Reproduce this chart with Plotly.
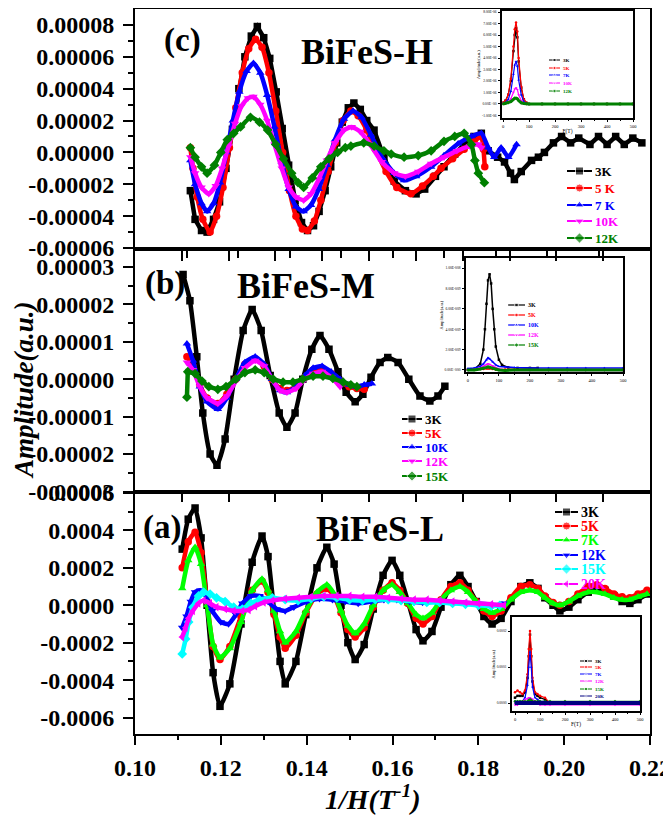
import plotly.graph_objects as go

FONT = "Liberation Serif"
BLACK, RED, BLUE, MAGENTA = "#000000", "#ff0000", "#0000ff", "#ff00ff"
OLIVE, LIME, CYAN, NAVY = "#008000", "#00ff00", "#00ffff", "#000080"

# ---------------- axis ticks ----------------
X_TICKS = [0.10, 0.12, 0.14, 0.16, 0.18, 0.20, 0.22]
X_MINOR = [0.11, 0.13, 0.15, 0.17, 0.19, 0.21]
B_FRAME_TICKS = [0.1109, 0.1218, 0.1327, 0.1436, 0.1545, 0.1655, 0.1764, 0.1873, 0.1982, 0.2091]
C_FRAME_TICKS = [0.112, 0.124, 0.136, 0.148, 0.160, 0.172, 0.184, 0.196, 0.208]
C_Y_TICKS = [-0.00006, -0.00004, -0.00002, 0.0, 0.00002, 0.00004, 0.00006, 0.00008]
C_Y_MINOR = [-0.00005, -0.00003, -0.00001, 0.00001, 0.00003, 0.00005, 0.00007]
B_Y_TICKS = [-0.00003, -0.00002, -0.00001, 0.0, 0.00001, 0.00002, 0.00003]
B_Y_MINOR = [-0.000025, -0.000015, -0.000005, 0.000005, 0.000015, 0.000025]
A_Y_TICKS = [-0.0006, -0.0004, -0.0002, 0.0, 0.0002, 0.0004, 0.0006]
A_Y_MINOR = [-0.0005, -0.0003, -0.0001, 0.0001, 0.0003, 0.0005]

# ---------------- panel (c) BiFeS-H ----------------
C_3K_X = [0.1129, 0.1140, 0.1155, 0.1168, 0.1183, 0.1197, 0.1212, 0.1227, 0.1242, 0.1256, 0.1271, 0.1285,
          0.1300, 0.1314, 0.1329, 0.1343, 0.1358, 0.1373, 0.1388, 0.1402, 0.1416, 0.1429, 0.1443, 0.1456,
          0.1470, 0.1483, 0.1497, 0.1510, 0.1525, 0.1540, 0.1557, 0.1580, 0.1604, 0.1630, 0.1655, 0.1675,
          0.1700, 0.1720, 0.1745, 0.1767, 0.1790, 0.1807, 0.1823, 0.1845, 0.1861, 0.1875, 0.1884, 0.1900,
          0.1924, 0.1940, 0.1954, 0.1975, 0.1994, 0.2015, 0.2034, 0.2060, 0.2080, 0.2100, 0.2120, 0.2140,
          0.2160, 0.2181]
C_3K_Y = [-2.4e-5, -4.2e-5, -4.9e-5, -5.0e-5, -4.2e-5, -3.1e-5, -1.0e-5, 1.45e-5, 4.0e-5, 6.0e-5, 7.3e-5, 7.9e-5,
          7.2e-5, 5.9e-5, 3.8e-5, 1.5e-5, -0.8e-5, -3.0e-5, -4.4e-5, -4.9e-5, -4.6e-5, -3.7e-5, -2.4e-5, -0.9e-5,
          0.6e-5, 1.9e-5, 2.8e-5, 3.1e-5, 2.7e-5, 2.0e-5, 1.4e-5, -0.3e-5, -1.8e-5, -2.4e-5, -2.6e-5, -2.3e-5,
          -1.5e-5, -0.9e-5, -0.1e-5, 0.5e-5, 1.0e-5, 1.2e-5, 0.1e-5, -0.3e-5, -0.6e-5, -1.3e-5, -1.7e-5, -1.2e-5,
          -0.5e-5, -0.3e-5, 0.0, 0.6e-5, 1.0e-5, 0.6e-5, 0.9e-5, 0.5e-5, 1.0e-5, 0.5e-5, 1.0e-5, 0.5e-5,
          0.9e-5, 0.6e-5]
C_5K_X = [0.1129, 0.1135, 0.1145, 0.1158, 0.1175, 0.1190, 0.1205, 0.1220, 0.1235, 0.1250, 0.1265, 0.1281,
          0.1296, 0.1312, 0.1328, 0.1344, 0.1360, 0.1375, 0.1390, 0.1402, 0.1418, 0.1433, 0.1450, 0.1467,
          0.1485, 0.1503, 0.1520, 0.1540, 0.1560, 0.1585, 0.1610, 0.1643, 0.1670, 0.1695, 0.1713, 0.1740,
          0.1767, 0.1790, 0.1807, 0.1812, 0.1815]
C_5K_Y = [0.3e-5, -1.0e-5, -2.8e-5, -4.2e-5, -5.0e-5, -4.0e-5, -2.2e-5, 0.3e-5, 2.8e-5, 5.0e-5, 6.5e-5, 7.1e-5,
          6.6e-5, 5.0e-5, 2.6e-5, 0.0, -2.4e-5, -4.0e-5, -4.8e-5, -4.9e-5, -4.3e-5, -3.0e-5, -1.2e-5, 0.6e-5,
          2.0e-5, 2.6e-5, 2.3e-5, 1.4e-5, 0.2e-5, -1.2e-5, -2.2e-5, -2.6e-5, -2.1e-5, -1.5e-5, -1.0e-5, -0.4e-5,
          0.2e-5, 0.7e-5, 1.0e-5, 0.2e-5, -0.9e-5]
C_7K_X = [0.1129, 0.1140, 0.1155, 0.1168, 0.1183, 0.1198, 0.1213, 0.1228, 0.1243, 0.1260, 0.1276, 0.1292,
          0.1308, 0.1325, 0.1342, 0.1358, 0.1375, 0.1393, 0.1410, 0.1428, 0.1447, 0.1466, 0.1487, 0.1508,
          0.1528, 0.1550, 0.1575, 0.1604, 0.1627, 0.1655, 0.1690, 0.1720, 0.1753, 0.1784, 0.1807, 0.1823,
          0.1837, 0.1853, 0.1870, 0.1889]
C_7K_Y = [-0.5e-5, -2.0e-5, -3.2e-5, -3.7e-5, -3.2e-5, -1.9e-5, 0.0, 2.0e-5, 3.8e-5, 5.1e-5, 5.6e-5, 5.0e-5,
          3.6e-5, 1.6e-5, -0.6e-5, -2.3e-5, -3.4e-5, -3.7e-5, -3.3e-5, -2.3e-5, -0.8e-5, 0.8e-5, 2.1e-5, 2.6e-5,
          2.2e-5, 1.1e-5, -0.3e-5, -1.3e-5, -1.75e-5, -1.5e-5, -0.9e-5, -0.2e-5, 0.55e-5, 1.0e-5, 1.2e-5, 0.3e-5,
          -0.3e-5, 0.3e-5, -0.3e-5, 0.5e-5]
C_10K_X = [0.1129, 0.1140, 0.1155, 0.1172, 0.1188, 0.1203, 0.1218, 0.1233, 0.1248, 0.1263, 0.1276, 0.1292,
           0.1308, 0.1325, 0.1342, 0.1358, 0.1375, 0.1393, 0.1410, 0.1428, 0.1447, 0.1466, 0.1487, 0.1505,
           0.1525, 0.1548, 0.1575, 0.1604, 0.1630, 0.1660, 0.1690, 0.1720, 0.1750, 0.1780, 0.1800, 0.1807]
C_10K_Y = [-0.3e-5, -1.3e-5, -2.2e-5, -2.6e-5, -2.1e-5, -1.0e-5, 0.4e-5, 1.8e-5, 2.9e-5, 3.4e-5, 3.5e-5, 3.0e-5,
           2.0e-5, 0.5e-5, -1.0e-5, -2.2e-5, -2.8e-5, -3.0e-5, -2.6e-5, -1.7e-5, -0.5e-5, 0.6e-5, 1.4e-5, 1.6e-5,
           1.3e-5, 0.5e-5, -0.6e-5, -1.3e-5, -1.5e-5, -1.2e-5, -0.7e-5, -0.3e-5, 0.1e-5, 0.4e-5, 0.5e-5, 0.3e-5]
C_12K_X = [0.1129, 0.1140, 0.1155, 0.1168, 0.1185, 0.1200, 0.1215, 0.1230, 0.1246, 0.1269, 0.1290, 0.1309,
           0.1328, 0.1346, 0.1365, 0.1380, 0.1393, 0.1413, 0.1433, 0.1452, 0.1472, 0.1490, 0.1503, 0.1533,
           0.1557, 0.1580, 0.1597, 0.1627, 0.1660, 0.1690, 0.1720, 0.1745, 0.1767, 0.1784, 0.1792, 0.1800,
           0.1814]
C_12K_Y = [0.3e-5, -0.3e-5, -0.9e-5, -1.3e-5, -0.8e-5, 0.0, 0.8e-5, 1.2e-5, 1.6e-5, 2.2e-5, 1.9e-5, 1.4e-5,
           0.5e-5, -0.4e-5, -1.3e-5, -1.9e-5, -2.2e-5, -1.6e-5, -0.9e-5, -0.4e-5, 0.0, 0.3e-5, 0.4e-5, 0.6e-5,
           0.4e-5, 0.1e-5, -0.1e-5, -0.3e-5, -0.2e-5, 0.1e-5, 0.7e-5, 1.0e-5, 1.2e-5, 0.5e-5, -0.5e-5, -1.3e-5,
           -1.9e-5]

# ---------------- panel (b) BiFeS-M ----------------
B_3K_X = [0.1112, 0.1128, 0.1144, 0.1158, 0.1175, 0.1191, 0.1210, 0.1231, 0.1252, 0.1273, 0.1294, 0.1315,
          0.1336, 0.1354, 0.1373, 0.1391, 0.1412, 0.1431, 0.1452, 0.1473, 0.1492, 0.1513, 0.1531, 0.1550,
          0.1571, 0.1589, 0.1613, 0.1638, 0.1664, 0.1687, 0.1706, 0.1722]
B_3K_Y = [2.8e-5, 2.1e-5, 0.6e-5, -0.9e-5, -2.0e-5, -2.3e-5, -1.6e-5, 0.0, 1.3e-5, 1.86e-5, 1.3e-5, 0.1e-5,
          -0.9e-5, -1.28e-5, -0.9e-5, 0.0, 0.8e-5, 1.17e-5, 0.8e-5, 0.2e-5, -0.35e-5, -0.6e-5, -0.4e-5, 0.05e-5,
          0.45e-5, 0.58e-5, 0.45e-5, 0.0, -0.45e-5, -0.58e-5, -0.45e-5, -0.19e-5]
B_5K_X = [0.1121, 0.1135, 0.1151, 0.1168, 0.1193, 0.1214, 0.1235, 0.1256, 0.1280, 0.1301, 0.1319, 0.1338,
          0.1354, 0.1375, 0.1396, 0.1415, 0.1436, 0.1457, 0.1478, 0.1499, 0.1517, 0.1534]
B_5K_Y = [0.6e-5, 0.35e-5, -0.15e-5, -0.5e-5, -0.65e-5, -0.4e-5, 0.0, 0.4e-5, 0.55e-5, 0.35e-5, 0.0, -0.25e-5,
          -0.3e-5, -0.2e-5, 0.05e-5, 0.25e-5, 0.3e-5, 0.15e-5, -0.05e-5, -0.2e-5, -0.25e-5, -0.27e-5]
B_10K_X = [0.1121, 0.1135, 0.1151, 0.1168, 0.1193, 0.1214, 0.1235, 0.1256, 0.1280, 0.1301, 0.1319, 0.1338,
           0.1354, 0.1375, 0.1396, 0.1415, 0.1436, 0.1457, 0.1478, 0.1499, 0.1517, 0.1534, 0.1552]
B_10K_Y = [0.95e-5, 0.5e-5, -0.2e-5, -0.6e-5, -0.8e-5, -0.5e-5, 0.0, 0.45e-5, 0.6e-5, 0.4e-5, 0.0, -0.3e-5,
           -0.35e-5, -0.2e-5, 0.1e-5, 0.3e-5, 0.35e-5, 0.2e-5, 0.0, -0.15e-5, -0.2e-5, -0.15e-5, -0.12e-5]
B_12K_X = [0.1121, 0.1135, 0.1151, 0.1168, 0.1193, 0.1214, 0.1235, 0.1256, 0.1280, 0.1301, 0.1319, 0.1338,
           0.1354, 0.1375, 0.1396, 0.1415, 0.1436, 0.1457, 0.1478]
B_12K_Y = [0.45e-5, 0.25e-5, -0.2e-5, -0.5e-5, -0.65e-5, -0.45e-5, -0.05e-5, 0.3e-5, 0.5e-5, 0.35e-5, 0.0,
           -0.3e-5, -0.35e-5, -0.25e-5, 0.0, 0.15e-5, 0.2e-5, 0.05e-5, -0.2e-5]
B_15K_X = [0.1121, 0.1123, 0.1140, 0.1156, 0.1172, 0.1193, 0.1212, 0.1235, 0.1256, 0.1280, 0.1301, 0.1322,
           0.1345, 0.1368, 0.1391, 0.1415, 0.1438, 0.1461, 0.1485, 0.1503, 0.1517]
B_15K_Y = [-0.48e-5, 0.2e-5, 0.15e-5, -0.05e-5, -0.2e-5, -0.27e-5, -0.2e-5, 0.0, 0.18e-5, 0.25e-5, 0.18e-5, 0.0,
           -0.08e-5, -0.08e-5, 0.0, 0.08e-5, 0.08e-5, 0.02e-5, -0.08e-5, -0.15e-5, -0.2e-5]

# ---------------- panel (a) BiFeS-L ----------------
A_LOW_T_X = [0.1110, 0.1124, 0.1140, 0.1154, 0.1168, 0.1182, 0.1198, 0.1221, 0.1247, 0.1273, 0.1296, 0.1310,
             0.1324, 0.1338, 0.1350, 0.1375, 0.1398, 0.1424, 0.1447, 0.1464, 0.1480, 0.1496, 0.1513, 0.1534,
             0.1555, 0.1578, 0.1599, 0.1617, 0.1636, 0.1655, 0.1671, 0.1692, 0.1713, 0.1736, 0.1757, 0.1776,
             0.1795, 0.1813, 0.1832, 0.1853, 0.1876, 0.1899, 0.1920, 0.1939, 0.1955, 0.1974, 0.1990, 0.2011,
             0.2032, 0.2056, 0.2076, 0.2095, 0.2116, 0.2135, 0.2153, 0.2172, 0.2193]
A_3K_Y = [3.0e-4, 4.6e-4, 5.2e-4, 3.6e-4, 0.0, -3.6e-4, -5.4e-4, -4.2e-4, -1.0e-4, 2.3e-4, 3.7e-4, 2.6e-4,
          -0.3e-4, -3.0e-4, -4.2e-4, -3.0e-4, -0.5e-4, 2.0e-4, 3.1e-4, 2.2e-4, 0.0, -2.0e-4, -2.9e-4, -2.1e-4,
          -0.2e-4, 1.6e-4, 2.4e-4, 1.6e-4, 0.2e-4, -1.3e-4, -1.9e-4, -1.4e-4, -0.1e-4, 1.1e-4, 1.6e-4, 1.0e-4,
          0.2e-4, -0.6e-4, -1.0e-4, -0.7e-4, 0.2e-4, 1.0e-4, 1.2e-4, 0.9e-4, 0.4e-4, 0.0, -0.3e-4, -0.1e-4,
          0.3e-4, 0.7e-4, 0.9e-4, 0.8e-4, 0.5e-4, 0.2e-4, 0.1e-4, 0.3e-4, 0.6e-4]
A_5K_Y = [2.0e-4, 3.4e-4, 3.9e-4, 2.8e-4, 0.2e-4, -2.2e-4, -2.9e-4, -2.2e-4, -0.6e-4, 0.8e-4, 1.3e-4, 0.7e-4,
          -0.5e-4, -1.7e-4, -2.3e-4, -1.6e-4, -0.4e-4, 0.6e-4, 0.9e-4, 0.5e-4, -0.4e-4, -1.3e-4, -1.7e-4, -1.2e-4,
          -0.1e-4, 0.8e-4, 1.2e-4, 0.8e-4, 0.1e-4, -0.7e-4, -1.0e-4, -0.6e-4, 0.3e-4, 1.0e-4, 1.2e-4, 0.8e-4,
          0.2e-4, -0.3e-4, -0.6e-4, -0.3e-4, 0.4e-4, 1.0e-4, 1.1e-4, 0.9e-4, 0.5e-4, 0.15e-4, 0.0, 0.2e-4,
          0.6e-4, 1.0e-4, 1.1e-4, 0.9e-4, 0.6e-4, 0.45e-4, 0.4e-4, 0.6e-4, 0.8e-4]
A_7K_Y = [0.9e-4, 2.4e-4, 3.1e-4, 2.2e-4, 0.0, -2.1e-4, -2.8e-4, -2.3e-4, -0.9e-4, 0.8e-4, 1.4e-4, 0.8e-4,
          -0.3e-4, -1.4e-4, -2.0e-4, -1.4e-4, -0.3e-4, 0.7e-4, 1.1e-4, 0.6e-4, -0.3e-4, -1.1e-4, -1.5e-4, -1.0e-4,
          0.0, 0.8e-4, 1.1e-4, 0.7e-4, 0.1e-4, -0.5e-4, -0.7e-4, -0.4e-4, 0.3e-4, 0.8e-4, 1.0e-4, 0.7e-4,
          0.2e-4, -0.2e-4, -0.4e-4, -0.2e-4, 0.3e-4, 0.7e-4, 0.8e-4, 0.7e-4, 0.4e-4, 0.1e-4, 0.0, 0.2e-4,
          0.5e-4, 0.7e-4, 0.7e-4, 0.6e-4, 0.4e-4, 0.3e-4, 0.3e-4, 0.45e-4, 0.6e-4]
A_12K_X = [0.1110, 0.1120, 0.1130, 0.1140, 0.1152, 0.1165, 0.1180, 0.1200, 0.1218, 0.1235, 0.1250, 0.1270,
           0.1290, 0.1310, 0.1330, 0.1350, 0.1370, 0.1400, 0.1430, 0.1460, 0.1490, 0.1520, 0.1550, 0.1580,
           0.1610, 0.1640, 0.1670, 0.1700, 0.1730, 0.1760, 0.1790, 0.1820, 0.1845, 0.1858]
A_12K_Y = [-1.2e-4, -0.6e-4, 0.2e-4, 0.7e-4, 0.8e-4, 0.5e-4, -0.3e-4, -0.9e-4, -1.0e-4, -0.5e-4, 0.1e-4, 0.5e-4,
           0.5e-4, 0.2e-4, -0.2e-4, -0.3e-4, -0.1e-4, 0.2e-4, 0.35e-4, 0.3e-4, 0.2e-4, 0.1e-4, 0.2e-4, 0.3e-4,
           0.3e-4, 0.2e-4, 0.15e-4, 0.2e-4, 0.2e-4, 0.15e-4, 0.1e-4, 0.05e-4, 0.0, 0.1e-4]
A_15K_X = [0.1110, 0.1118, 0.1125, 0.1135, 0.1148, 0.1160, 0.1175, 0.1190, 0.1210, 0.1230, 0.1250, 0.1270,
           0.1290, 0.1320, 0.1350, 0.1380, 0.1410, 0.1440, 0.1470, 0.1500, 0.1530, 0.1560, 0.1590, 0.1620,
           0.1650, 0.1680, 0.1710, 0.1740, 0.1770, 0.1800, 0.1830, 0.1850]
A_15K_Y = [-2.6e-4, -1.8e-4, -0.9e-4, -0.1e-4, 0.5e-4, 0.7e-4, 0.6e-4, 0.4e-4, 0.2e-4, -0.1e-4, -0.2e-4, 0.1e-4,
           0.3e-4, 0.4e-4, 0.3e-4, 0.25e-4, 0.35e-4, 0.45e-4, 0.4e-4, 0.3e-4, 0.25e-4, 0.3e-4, 0.3e-4, 0.25e-4,
           0.2e-4, 0.15e-4, 0.15e-4, 0.1e-4, 0.05e-4, 0.0, -0.05e-4, 0.0]
A_20K_X = [0.1110, 0.1118, 0.1125, 0.1135, 0.1148, 0.1160, 0.1175, 0.1190, 0.1210, 0.1230, 0.1250, 0.1265,
           0.1280, 0.1300, 0.1320, 0.1350, 0.1380, 0.1410, 0.1440, 0.1470, 0.1500, 0.1530, 0.1560, 0.1590,
           0.1620, 0.1650, 0.1680, 0.1710, 0.1740, 0.1770, 0.1800, 0.1830, 0.1860]
A_20K_Y = [-1.7e-4, -1.2e-4, -0.7e-4, -0.3e-4, 0.1e-4, 0.25e-4, 0.1e-4, -0.1e-4, -0.2e-4, -0.3e-4, -0.3e-4,
           -0.25e-4, -0.05e-4, 0.15e-4, 0.25e-4, 0.35e-4, 0.4e-4, 0.45e-4, 0.5e-4, 0.5e-4, 0.5e-4, 0.45e-4,
           0.45e-4, 0.4e-4, 0.35e-4, 0.3e-4, 0.3e-4, 0.25e-4, 0.2e-4, 0.15e-4, 0.1e-4, 0.05e-4, 0.0]

# ---------------- insets (FFT amplitude vs F(T)) ----------------
IC_F = [0, 10, 20, 30, 40, 45, 50, 55, 60, 70, 80, 90, 100, 150, 200, 250, 300, 350, 400, 450, 500]
IC_3K = [0.1e-6, 0.3e-6, 0.8e-6, 2.0e-6, 4.6e-6, 6.0e-6, 6.6e-6, 5.8e-6, 3.7e-6, 1.4e-6, 0.4e-6, 0.1e-6, 0, 0, 0, 0, 0, 0, 0, 0, 0]
IC_5K = [0.1e-6, 0.3e-6, 0.8e-6, 2.2e-6, 5.0e-6, 6.5e-6, 7.1e-6, 6.3e-6, 4.0e-6, 1.5e-6, 0.4e-6, 0.1e-6, 0, 0, 0, 0, 0, 0, 0, 0, 0]
IC_7K = [0.05e-6, 0.15e-6, 0.4e-6, 1.1e-6, 2.6e-6, 3.4e-6, 3.7e-6, 3.3e-6, 2.1e-6, 0.8e-6, 0.2e-6, 0.05e-6, 0, 0, 0, 0, 0, 0, 0, 0, 0]
IC_10K = [0.05e-6, 0.1e-6, 0.2e-6, 0.45e-6, 1.0e-6, 1.3e-6, 1.4e-6, 1.25e-6, 0.8e-6, 0.3e-6, 0.1e-6, 0, 0, 0, 0, 0, 0, 0, 0, 0, 0]
IC_12K = [0.0, 0.05e-6, 0.1e-6, 0.2e-6, 0.4e-6, 0.5e-6, 0.5e-6, 0.45e-6, 0.3e-6, 0.1e-6, 0.05e-6, 0, 0, 0, 0, 0, 0, 0, 0, 0, 0]
IC_Y_TICKS = [-1e-6, 0.0, 1e-6, 2e-6, 3e-6, 4e-6, 5e-6, 6e-6, 7e-6, 8e-6]
IC_Y_TEXT = ["-1.00E-06", "0.00E+00", "1.00E-06", "2.00E-06", "3.00E-06", "4.00E-06", "5.00E-06",
             "6.00E-06", "7.00E-06", "8.00E-06"]

IB_3K_F = [0, 20, 40, 50, 55, 60, 65, 70, 75, 80, 85, 90, 100, 110, 130, 160, 200, 225]
IB_3K = [0.0, 0.05e-9, 0.6e-9, 2.0e-9, 4.0e-9, 6.5e-9, 8.8e-9, 9.4e-9, 8.5e-9, 6.0e-9, 4.0e-9, 2.3e-9,
         1.0e-9, 0.5e-9, 0.25e-9, 0.2e-9, 0.2e-9, 0.2e-9]
IB_F = [0, 20, 40, 50, 60, 65, 70, 80, 90, 100, 120, 150, 200, 260, 320, 380, 440, 500]
IB_5K = [0.05e-9, 0.05e-9, 0.1e-9, 0.1e-9, 0.15e-9, 0.15e-9, 0.15e-9, 0.1e-9, 0.05e-9, 0.05e-9, 0.05e-9,
         0.05e-9, 0.05e-9, 0.05e-9, 0.05e-9, 0.05e-9, 0.05e-9, 0.05e-9]
IB_10K = [0.15e-9, 0.2e-9, 0.35e-9, 0.6e-9, 1.0e-9, 1.2e-9, 1.1e-9, 0.8e-9, 0.5e-9, 0.35e-9, 0.3e-9, 0.25e-9,
          0.2e-9, 0.2e-9, 0.2e-9, 0.2e-9, 0.2e-9, 0.2e-9]
IB_12K = [0.0, 0.05e-9, 0.2e-9, 0.35e-9, 0.55e-9, 0.6e-9, 0.55e-9, 0.4e-9, 0.2e-9, 0.1e-9, 0.0, -0.05e-9,
          -0.05e-9, -0.05e-9, -0.05e-9, -0.05e-9, -0.05e-9, -0.05e-9]
IB_15K = [0.0, 0.0, 0.1e-9, 0.15e-9, 0.25e-9, 0.3e-9, 0.25e-9, 0.15e-9, 0.05e-9, 0.0, -0.05e-9, 0.0, 0.0,
          0.0, 0.0, 0.0, 0.0, 0.0]
IB_Y_TICKS = [0.0, 2e-9, 4e-9, 6e-9, 8e-9, 1e-8]
IB_Y_TEXT = ["0.00E+000", "2.00E-009", "4.00E-009", "6.00E-009", "8.00E-009", "1.00E-008"]

IA_F = [0, 10, 20, 30, 40, 50, 55, 60, 65, 70, 80, 90, 100, 120, 140, 200, 300, 400, 500]
IA_3K = [0.15e-4, 0.2e-4, 0.2e-4, 0.2e-4, 0.3e-4, 0.7e-4, 1.3e-4, 1.9e-4, 1.3e-4, 0.6e-4, 0.25e-4, 0.2e-4,
         0.15e-4, 0.1e-4, 0.0, 0.0, 0.0, 0.0, 0.0]
IA_5K = [0.3e-4, 0.35e-4, 0.3e-4, 0.25e-4, 0.35e-4, 0.8e-4, 1.5e-4, 2.0e-4, 1.5e-4, 0.7e-4, 0.3e-4, 0.25e-4,
         0.2e-4, 0.15e-4, 0.0, 0.0, 0.0, 0.0, 0.0]
IA_7K = [0.05e-4, 0.05e-4, 0.05e-4, 0.05e-4, 0.15e-4, 0.5e-4, 1.0e-4, 1.42e-4, 1.0e-4, 0.45e-4, 0.15e-4,
         0.1e-4, 0.05e-4, 0.05e-4, 0.0, 0.0, 0.0, 0.0, 0.0]
IA_12K = [-0.05e-4, -0.05e-4, 0.0, 0.05e-4, 0.1e-4, 0.12e-4, 0.15e-4, 0.15e-4, 0.12e-4, 0.1e-4, 0.05e-4, 0.0,
          -0.05e-4, -0.05e-4, -0.05e-4, -0.05e-4, -0.05e-4, -0.05e-4, -0.05e-4]
IA_15K = [0.05e-4, 0.05e-4, 0.05e-4, 0.05e-4, 0.05e-4, 0.05e-4, 0.08e-4, 0.1e-4, 0.08e-4, 0.05e-4, 0.05e-4,
          0.05e-4, 0.05e-4, 0.05e-4, 0.05e-4, 0.05e-4, 0.05e-4, 0.05e-4, 0.05e-4]
IA_20K = [0.0, 0.0, 0.0, 0.0, 0.0, 0.0, 0.0, 0.0, 0.0, 0.0, 0.0, 0.0, 0.0, 0.0, 0.0, 0.0, 0.0, 0.0, 0.0]
IA_Y_TICKS = [0.0, 1e-4, 2e-4]
IA_Y_TEXT = ["0.0000", "0.0001", "0.0002"]
F_TICKS = [0, 100, 200, 300, 400, 500]

# ---------------- legend labels ----------------
C_LABELS = ["3K", "5 K", "7 K", "10K", "12K"]
B_LABELS = ["3K", "5K", "10K", "12K", "15K"]
A_LABELS = ["3K", "5K", "7K", "12K", "15K", "20K"]
IC_LABELS = ["3K", "5K", "7K", "10K", "12K"]
IB_LABELS = ["3K", "5K", "10K", "12K", "15K"]
IA_LABELS = ["3K", "5K", "7K", "12K", "15K", "20K"]

# ---------------- styling / layout constants ----------------
C_STYLE = [(BLACK, "square"), (RED, "circle"), (BLUE, "triangle-up"), (MAGENTA, "triangle-down"), (OLIVE, "diamond")]
B_STYLE = [(BLACK, "square"), (RED, "circle"), (BLUE, "triangle-up"), (MAGENTA, "triangle-down"), (OLIVE, "diamond")]
A_STYLE = [(BLACK, "square"), (RED, "circle"), (LIME, "triangle-up"), (BLUE, "triangle-down"), (CYAN, "diamond"),
           (MAGENTA, "triangle-left")]
IC_STYLE = [(BLACK, "square"), (RED, "circle"), (BLUE, "triangle-up"), (MAGENTA, "triangle-down"), (OLIVE, "diamond")]
IB_STYLE = [(BLACK, "square"), (RED, "circle"), (BLUE, "triangle-up"), (MAGENTA, "triangle-down"), (OLIVE, "diamond")]
IA_STYLE = [(BLACK, "square"), (RED, "circle"), (BLUE, "triangle-up"), (MAGENTA, "triangle-down"), (OLIVE, "diamond"),
            (NAVY, "triangle-left")]

# page body has an 8px margin: the figure starts at screen (8, 8)
SCREEN_W, SCREEN_H, PAGE_PAD = 671, 815, 8
W, H = SCREEN_W - PAGE_PAD, SCREEN_H - PAGE_PAD
PX_LEFT, PX_RIGHT, PX_TOP, PX_BOTTOM = 135, 650, 9, 734          # plot area, screen pixels
ML, MR = PX_LEFT - PAGE_PAD, SCREEN_W - PX_RIGHT
MT, MB = PX_TOP - PAGE_PAD, SCREEN_H - PX_BOTTOM


def px_x(p):
    return (p - PX_LEFT) / (PX_RIGHT - PX_LEFT)


def px_y(p):
    return (PX_BOTTOM - p) / (PX_BOTTOM - PX_TOP)


fig = go.Figure()


def main_trace(x, y, style, xa, ya, size=7.5, shape="spline"):
    color, sym = style
    fig.add_trace(go.Scatter(
        x=x, y=y, mode="lines+markers", xaxis=xa, yaxis=ya, showlegend=False, hoverinfo="skip",
        line=dict(color=color, width=4.5, shape=shape, smoothing=0.5),
        marker=dict(color=color, symbol=sym, size=size, line=dict(width=0))))


# panel (c)
for (x, y, shp), st in zip([(C_3K_X, C_3K_Y, "linear"), (C_5K_X, C_5K_Y, "spline"), (C_7K_X, C_7K_Y, "spline"),
                            (C_10K_X, C_10K_Y, "spline"), (C_12K_X, C_12K_Y, "spline")], C_STYLE):
    main_trace(x, y, st, "x3", "y3", shape=shp)
# panel (b)
for (x, y, shp), st in zip([(B_3K_X, B_3K_Y, "spline"), (B_5K_X, B_5K_Y, "spline"), (B_10K_X, B_10K_Y, "spline"),
                            (B_12K_X, B_12K_Y, "spline"), (B_15K_X, B_15K_Y, "linear")], B_STYLE):
    main_trace(x, y, st, "x2", "y2", shape=shp)
# panel (a)
for (x, y), st in zip([(A_LOW_T_X, A_3K_Y), (A_LOW_T_X, A_5K_Y), (A_LOW_T_X, A_7K_Y),
                       (A_12K_X, A_12K_Y), (A_15K_X, A_15K_Y), (A_20K_X, A_20K_Y)], A_STYLE):
    main_trace(x, y, st, "x", "y")

# helper trace so the top-tick axis of panel (b) is drawn
fig.add_trace(go.Scatter(x=[], y=[], xaxis="x4", yaxis="y2", showlegend=False, hoverinfo="skip"))


def inset_trace(x, y, style, xa, ya, lw=1.0, ms=2.5):
    color, sym = style
    fig.add_trace(go.Scatter(
        x=x, y=y, mode="lines+markers", xaxis=xa, yaxis=ya, showlegend=False, hoverinfo="skip",
        line=dict(color=color, width=lw), marker=dict(color=color, symbol=sym, size=ms)))


for y, st in zip([IC_3K, IC_5K, IC_7K, IC_10K, IC_12K], IC_STYLE):
    inset_trace(IC_F, y, st, "x5", "y5", lw=1.2 if st[0] != OLIVE else 3)
for (x, y), st in zip([(IB_3K_F, IB_3K), (IB_F, IB_5K), (IB_F, IB_10K), (IB_F, IB_12K), (IB_F, IB_15K)], IB_STYLE):
    inset_trace(x, y, st, "x6", "y6", lw=1.5 if st[0] != OLIVE else 3)
for y, st in zip([IA_3K, IA_5K, IA_7K, IA_12K, IA_15K, IA_20K], IA_STYLE):
    inset_trace(IA_F, y, st, "x7", "y7", lw=1.2 if st[0] != NAVY else 4)

# ---------------- legends (glyphs on a pixel-space overlay, labels as annotations) ----------------
LEG_C = dict(x0=567, x1=592, rows=[171, 188, 205, 221, 238], ms=8, fs=13, lw=2)
LEG_B = dict(x0=402, x1=422, rows=[419, 433, 447, 461, 476], ms=8, fs=13, lw=2)
LEG_A = dict(x0=555, x1=578, rows=[512, 526, 540, 555, 569, 584], ms=8, fs=14, lw=2)
LEG_IC = dict(x0=549, x1=560, rows=[60, 68, 75, 83, 91], ms=3, fs=5, lw=1)
LEG_IB = dict(x0=508, x1=525, rows=[305, 315, 325, 335, 345], ms=3.5, fs=6, lw=1.2)
LEG_IA = dict(x0=580, x1=592, rows=[661, 667, 674, 681, 689, 696], ms=3, fs=5, lw=1)

annotations = []


def legend_block(spec, labels, styles):
    for lab, (color, sym), yy in zip(labels, styles, spec["rows"]):
        xm = (spec["x0"] + spec["x1"]) / 2
        fig.add_trace(go.Scatter(
            x=[spec["x0"], xm, spec["x1"]], y=[yy, yy, yy], mode="lines+markers",
            line=dict(color=color, width=spec["lw"]),
            marker=dict(color=color, symbol=sym, size=[0, spec["ms"], 0]),
            xaxis="x8", yaxis="y8", showlegend=False, hoverinfo="skip", cliponaxis=False))
        annotations.append(dict(text=lab, x=spec["x1"] + 2, y=yy, xref="x8", yref="y8", showarrow=False,
                                xanchor="left", yanchor="middle", borderpad=0,
                                font=dict(family=FONT, size=spec["fs"], color=color, weight="bold")))


legend_block(LEG_C, C_LABELS, C_STYLE)
legend_block(LEG_B, B_LABELS, B_STYLE)
legend_block(LEG_A, A_LABELS, A_STYLE)
legend_block(LEG_IC, IC_LABELS, IC_STYLE)
legend_block(LEG_IB, IB_LABELS, IB_STYLE)
legend_block(LEG_IA, IA_LABELS, IA_STYLE)

# ---------------- axes ----------------
TICKFONT_Y = dict(family=FONT, size=24, color="black", weight="bold")
TICKFONT_X = dict(family=FONT, size=24, color="black", weight="bold")
FRAME = dict(showline=True, linecolor="black", linewidth=2, mirror=True, showgrid=False, zeroline=False,
             automargin=False)


def y_main(domain, rng, ticks, minor, fmt, anchor):
    return dict(domain=domain, range=rng, anchor=anchor, tickmode="array", tickvals=ticks,
                ticktext=[fmt.format(v) for v in ticks], ticks="outside", ticklen=10, tickwidth=2,
                tickcolor="black", tickfont=TICKFONT_Y, ticklabelstandoff=4,
                minor=dict(tickmode="array", tickvals=minor, ticks="outside", ticklen=5, tickwidth=2,
                           tickcolor="black", showgrid=False), **FRAME)


D_A = [0.0, px_y(491.5)]
D_B = [px_y(491.5), px_y(249)]
D_C = [px_y(249), 1.0]

layout_axes = dict(
    xaxis=dict(domain=[0, 1], range=[0.10, 0.22], anchor="y", tickmode="array", tickvals=X_TICKS,
               ticktext=["{:.2f}".format(v) for v in X_TICKS], ticks="outside", ticklen=9, tickwidth=2,
               tickcolor="black", tickfont=TICKFONT_X, ticklabelstandoff=2,
               minor=dict(tickmode="array", tickvals=X_MINOR, ticks="outside", ticklen=4, tickwidth=2,
                          tickcolor="black", showgrid=False), **FRAME),
    xaxis2=dict(domain=[0, 1], range=[0.10, 0.22], anchor="y2", tickmode="array", tickvals=B_FRAME_TICKS,
                ticks="outside", ticklen=8, tickwidth=2, tickcolor="black", showticklabels=False, **FRAME),
    xaxis3=dict(domain=[0, 1], range=[0.10, 0.22], anchor="y3", tickmode="array", tickvals=C_FRAME_TICKS,
                ticks="outside", ticklen=7, tickwidth=2, tickcolor="black", showticklabels=False, **FRAME),
    xaxis4=dict(domain=[0, 1], range=[0.10, 0.22], anchor="y2", overlaying="x2", side="top",
                tickmode="array", tickvals=B_FRAME_TICKS, ticks="inside", ticklen=12, tickwidth=2,
                tickcolor="black", showticklabels=False, showline=False, showgrid=False, zeroline=False,
                automargin=False),
    yaxis=y_main(D_A, [-0.000688, 0.000608], A_Y_TICKS, A_Y_MINOR, "{:.4f}", "x"),
    yaxis2=y_main(D_B, [-0.00003, 0.0000348], B_Y_TICKS, B_Y_MINOR, "{:.5f}", "x2"),
    yaxis3=y_main(D_C, [-0.0000606, 0.00009], C_Y_TICKS, C_Y_MINOR, "{:.5f}", "x3"),
)


def inset_axes(nx, ny, px_l, px_r, px_t, px_b, xr, yr, yt, ytxt, xtitle, tick_fs=4.5, ytick_fs=3.6):
    small = dict(showline=True, linecolor="black", linewidth=1.5, mirror=True, showgrid=False,
                 zeroline=False, automargin=False)
    xa = dict(domain=[px_x(px_l), px_x(px_r)], range=xr, anchor=ny, tickmode="array", tickvals=F_TICKS,
              ticktext=[str(v) for v in F_TICKS], ticks="outside", ticklen=2, tickwidth=1, tickcolor="black",
              tickfont=dict(family=FONT, size=tick_fs, color="black"), ticklabelstandoff=1,
              minor=dict(tickmode="array", tickvals=[50, 150, 250, 350, 450], ticks="outside", ticklen=1.5,
                         tickwidth=1, tickcolor="black"), **small)
    if xtitle:
        xa["title"] = dict(text=xtitle, font=dict(family=FONT, size=5.5, color="black"), standoff=1)
    ya = dict(domain=[px_y(px_b), px_y(px_t)], range=yr, anchor=nx, tickmode="array", tickvals=yt,
              ticktext=ytxt, ticks="outside", ticklen=2, tickwidth=1, tickcolor="black",
              tickfont=dict(family=FONT, size=ytick_fs, color="black"), ticklabelstandoff=1,
              title=dict(text="Amplitude(a.u.)", font=dict(family=FONT, size=4.5, color="black"), standoff=1),
              **small)
    return xa, ya


layout_axes["xaxis5"], layout_axes["yaxis5"] = inset_axes("x5", "y5", 502, 633, 11, 118, [-4, 500],
                                                          [-1.22e-6, 8.09e-6], IC_Y_TICKS, IC_Y_TEXT, "F(T)")
layout_axes["xaxis6"], layout_axes["yaxis6"] = inset_axes("x6", "y6", 466, 623, 258, 372, [-6, 500],
                                                          [-0.2e-9, 11e-9], IB_Y_TICKS, IB_Y_TEXT, None)
layout_axes["xaxis7"], layout_axes["yaxis7"] = inset_axes("x7", "y7", 512, 640, 617, 711, [-12, 500],
                                                          [-0.22e-4, 2.39e-4], IA_Y_TICKS, IA_Y_TEXT, "F(T)")
layout_axes["xaxis8"] = dict(domain=[0, 1], range=[PX_LEFT, PX_RIGHT], anchor="y8", visible=False,
                             fixedrange=True, automargin=False)
layout_axes["yaxis8"] = dict(domain=[0, 1], range=[PX_BOTTOM, PX_TOP], anchor="x8", visible=False,
                             fixedrange=True, automargin=False)

# ---------------- annotations ----------------
PANEL_TEXT = [("(c)", 182, 41, 33), ("BiFeS-H", 367, 52, 36), ("(b)", 165, 283, 33), ("BiFeS-M", 306, 286, 36),
              ("(a)", 162, 527, 33), ("BiFeS-L", 380, 529, 36)]
for txt, ax_, ay_, fs in PANEL_TEXT:
    annotations.append(dict(text=txt, x=px_x(ax_), y=px_y(ay_), xref="paper", yref="paper", showarrow=False,
                            xanchor="center", yanchor="middle",
                            font=dict(family=FONT, size=fs, color="black", weight="bold")))
annotations.append(dict(text="<i>Amplitude(a.u.)</i>", x=px_x(24), y=px_y(390), xref="paper", yref="paper",
                        showarrow=False, textangle=-90, xanchor="center", yanchor="middle",
                        font=dict(family=FONT, size=27, color="black", weight="bold")))
annotations.append(dict(text="<i>1/H(T<sup>-1</sup>)</i>", x=px_x(373), y=px_y(798), xref="paper",
                        yref="paper", showarrow=False, xanchor="center", yanchor="middle",
                        font=dict(family=FONT, size=28, color="black", weight="bold")))

fig.update_layout(
    width=W, height=H, autosize=False,
    margin=dict(l=ML, r=MR, t=MT, b=MB, autoexpand=False),
    paper_bgcolor="white", plot_bgcolor="rgba(0,0,0,0)",
    showlegend=False, annotations=annotations,
    font=dict(family=FONT, color="black"),
    **layout_axes,
)

fig.write_html("out.html")
